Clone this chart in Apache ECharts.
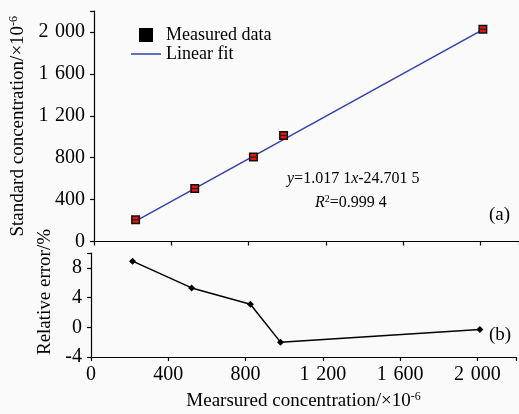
<!DOCTYPE html>
<html>
<head>
<meta charset="utf-8">
<script src="https://cdn.jsdelivr.net/npm/echarts@6/dist/echarts.min.js"></script>
<style>
  html, body { margin: 0; padding: 0; background: #fafafa; }
  #chart { width: 519px; height: 414px; }
</style>
</head>
<body>
<div id="chart"></div>
<script>
// measured data (top panel)
var measuredX = [215, 521, 825, 981, 2013];
var standardY = [207, 505, 806, 1012, 2026];
// linear fit end points
var fitX = [215, 2013];
var fitY = [194, 2023];
// relative error (bottom panel)
var errX = [215, 521, 825, 981, 2013];
var errY = [8.9, 5.3, 3.1, -2.0, -0.3];

var serif = "'Liberation Serif', 'Times New Roman', serif";

function sep(v) {
  // 1200 -> "1 200"
  var s = String(Math.round(v));
  if (Math.abs(v) >= 1000) s = s.slice(0, s.length - 3) + '\u2004' + s.slice(-3);
  return s;
}

function pairs(xs, ys) {
  return xs.map(function (x, i) { return [x, ys[i]]; });
}

var chart = echarts.init(document.getElementById('chart'));

var axisCommon = {
  axisLine: { onZero: false, lineStyle: { color: '#000', width: 1.2 } },
  axisTick: { inside: false, length: 4, lineStyle: { color: '#000', width: 1.2 } },
  splitLine: { show: false }
};
var supRich = {
  sup: { fontSize: 12, fontFamily: serif, color: '#000', verticalAlign: 'top', padding: [0, 0, 8, 0] }
};

var option = {
  backgroundColor: '#fafafa',
  animation: false,
  legend: {
    orient: 'vertical',
    left: 126,
    top: 21,
    itemWidth: 30,
    itemHeight: 14,
    itemGap: 1,
    textStyle: { fontFamily: serif, fontSize: 18, color: '#000' },
    data: [
      { name: 'Measured data', icon: 'path://M0,0h10v10h-10z', itemStyle: { color: '#000', borderWidth: 0 } },
      { name: 'Linear fit', icon: 'path://M0,0h30v1.5h-30z', itemStyle: { color: '#3340a8', borderWidth: 0 } }
    ]
  },
  grid: [
    { left: 91, right: -3, top: 11, height: 230.5 },
    { left: 91, right: -3, top: 253, height: 104 }
  ],
  xAxis: [
    Object.assign({}, axisCommon, {
      type: 'value', gridIndex: 0, min: 0, max: 2200, interval: 400,
      axisLabel: { show: false }
    }),
    Object.assign({}, axisCommon, {
      type: 'value', gridIndex: 1, min: 0, max: 2200, interval: 400,
      axisLabel: {
        margin: 8, fontFamily: serif, fontSize: 20, color: '#000',
        formatter: function (v) { return v > 2000 ? '' : sep(v); }
      },
      name: 'Mearsured concentration/×10{sup|-6}',
      nameLocation: 'middle',
      nameGap: 34,
      nameTextStyle: { fontFamily: serif, fontSize: 19, color: '#000', rich: supRich }
    })
  ],
  yAxis: [
    Object.assign({}, axisCommon, {
      type: 'value', gridIndex: 0, min: 0, max: 2200, interval: 400,
      axisLabel: {
        margin: 9, fontFamily: serif, fontSize: 20, color: '#000',
        formatter: function (v) { return v > 2000 ? '' : sep(v); }
      },
      name: 'Standard concentration/×10{sup|-6}',
      nameLocation: 'middle',
      nameGap: 64,
      nameTextStyle: { fontFamily: serif, fontSize: 19, color: '#000', rich: supRich }
    }),
    Object.assign({}, axisCommon, {
      type: 'value', gridIndex: 1, min: -4, max: 10, interval: 4,
      axisLabel: {
        margin: 9, fontFamily: serif, fontSize: 20, color: '#000',
        formatter: function (v) { return v > 8 ? '' : String(v); }
      },
      name: 'Relative error/%',
      nameLocation: 'middle',
      nameGap: 35,
      nameTextStyle: { fontFamily: serif, fontSize: 19, color: '#000', padding: [0, 0, 0, 26] }
    })
  ],
  series: [
    {
      name: 'Linear fit',
      type: 'line',
      xAxisIndex: 0, yAxisIndex: 0,
      data: pairs(fitX, fitY),
      symbol: 'none',
      lineStyle: { color: '#3340a8', width: 1.5 },
      itemStyle: { color: '#3340a8' },
      z: 2
    },
    {
      name: 'Measured data',
      type: 'scatter',
      xAxisIndex: 0, yAxisIndex: 0,
      data: pairs(measuredX, standardY),
      symbol: 'rect',
      symbolSize: 7.5,
      itemStyle: { color: '#e01818', borderColor: '#111', borderWidth: 1.5, opacity: 1 },
      z: 3
    },
    {
      // small error bar inside the markers
      name: 'bar',
      type: 'scatter',
      xAxisIndex: 0, yAxisIndex: 0,
      data: pairs(measuredX, standardY),
      symbol: 'rect',
      symbolSize: [6, 1.2],
      itemStyle: { color: '#111' },
      silent: true,
      z: 4
    },
    {
      name: 'Relative error',
      type: 'line',
      xAxisIndex: 1, yAxisIndex: 1,
      data: pairs(errX, errY),
      symbol: 'diamond',
      symbolSize: 7,
      lineStyle: { color: '#000', width: 1.5 },
      itemStyle: { color: '#000' }
    }
  ],
  graphic: [
    {
      type: 'text', left: 287, top: 171,
      style: {
        text: '{i|y}=1.017 1{i|x}-24.701 5',
        fontFamily: serif, fontSize: 16, fill: '#000',
        rich: { i: { fontStyle: 'italic', fontFamily: serif, fontSize: 16 } }
      }
    },
    {
      type: 'text', left: 315, top: 194,
      style: {
        text: '{i|R}{s|2}=0.999 4',
        fontFamily: serif, fontSize: 16, fill: '#000',
        rich: {
          i: { fontStyle: 'italic', fontFamily: serif, fontSize: 16 },
          s: { fontFamily: serif, fontSize: 10, verticalAlign: 'top', padding: [0, 0, 7, 0] }
        }
      }
    },
    { type: 'text', left: 489, top: 206, style: { text: '(a)', fontFamily: serif, fontSize: 19, fill: '#000' } },
    { type: 'text', left: 489, top: 326, style: { text: '(b)', fontFamily: serif, fontSize: 19, fill: '#000' } }
  ]
};

chart.setOption(option);
</script>
</body>
</html>
